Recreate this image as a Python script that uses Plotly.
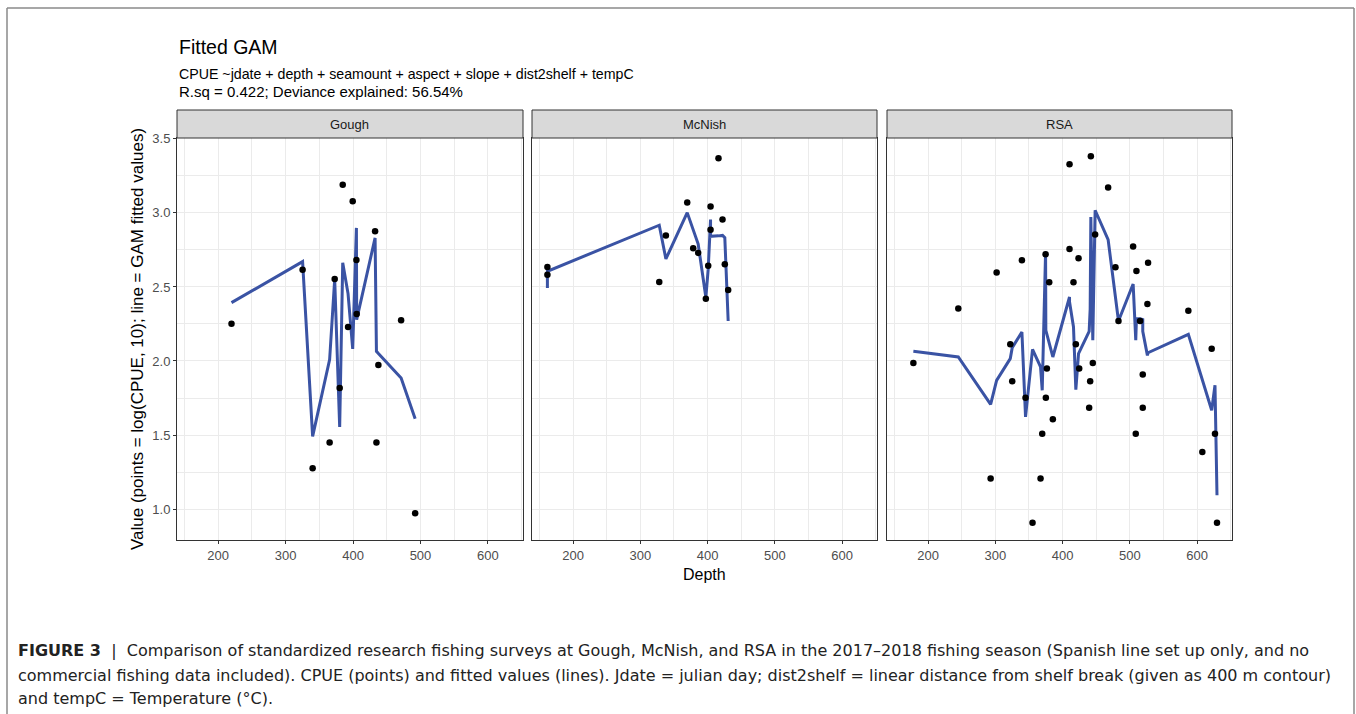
import plotly.graph_objects as go

W, H = 1356, 714

# Gough
gough_depth = [219.8, 325.2, 340.1, 365.3, 372.8, 380.2, 384.7, 392.6, 399.5, 405.0, 405.4, 432.7, 434.7, 437.6, 471.3, 492.1]
gough_cpue = [2.252, 2.617, 1.275, 1.450, 2.554, 1.818, 3.191, 2.230, 3.079, 2.682, 2.318, 2.876, 1.450, 1.973, 2.275, 0.971]
gough_fit = [2.394, 2.671, 1.491, 2.009, 2.552, 1.554, 2.664, 2.455, 2.081, 2.899, 2.279, 2.831, 2.065, 2.050, 1.885, 1.610]

# McNish
mcnish_depth = [161.9, 161.9, 328.2, 338.1, 369.8, 378.7, 386.1, 397.5, 401.0, 404.5, 404.5, 416.3, 422.3, 425.7, 430.7]
mcnish_cpue = [2.635, 2.583, 2.534, 2.847, 3.070, 2.761, 2.730, 2.421, 2.644, 3.043, 2.887, 3.369, 2.955, 2.653, 2.480]
mcnish_fit = [2.493, 2.606, 2.917, 2.689, 3.002, 2.880, 2.790, 2.430, 2.620, 2.955, 2.842, 2.845, 2.848, 2.833, 2.270]

# RSA
rsa_depth = [178.2, 245.0, 293.1, 302.0, 322.3, 325.2, 339.6, 345.0, 355.4, 367.3, 369.8,
             374.8, 375.2, 376.7, 380.2, 385.6, 410.4, 410.4, 416.3, 419.8, 423.8, 424.8,
             439.6, 441.1, 442.1, 445.0, 448.5, 467.8, 478.7, 483.2, 505.0, 508.9, 509.9,
             515.3, 519.3, 519.3, 526.2, 527.2, 587.1, 607.9, 621.8, 626.7, 629.7]
rsa_cpue = [1.986, 2.354, 1.207, 2.597, 2.113, 1.863, 2.680, 1.752, 0.908, 1.207, 1.509,
            2.721, 1.752, 1.950, 2.532, 1.606, 3.329, 2.757, 2.532, 2.113, 2.694, 1.950,
            1.685, 1.863, 3.383, 1.986, 2.854, 3.171, 2.633, 2.270, 2.773, 1.509, 2.608,
            2.270, 1.908, 1.685, 2.385, 2.664, 2.340, 1.385, 2.083, 1.509, 0.908]
rsa_fit = [2.065, 2.027, 1.707, 1.869, 2.016, 2.090, 2.196, 1.622, 2.079, 1.960, 1.802,
           2.737, 2.207, 2.180, 2.120, 2.027, 2.432, 2.400, 2.230, 1.806, 2.050, 2.060,
           2.200, 2.350, 2.973, 2.140, 3.018, 2.820, 2.430, 2.270, 2.520, 2.140, 2.286,
           2.286, 2.280, 2.200, 2.038, 2.056, 2.180, 1.871, 1.667, 1.836, 1.093]

panels = ["Gough", "McNish", "RSA"]
data = [(gough_depth, gough_cpue, gough_fit),
        (mcnish_depth, mcnish_cpue, mcnish_fit),
        (rsa_depth, rsa_cpue, rsa_fit)]

# panel pixel boxes
xpix = [(177, 523), (532, 877), (887, 1232)]
ytop, ybot = 138, 540

def px(x):
    return x / W

def py(y):
    return 1 - y / H

fig = go.Figure()
for i, (d, c, f) in enumerate(data):
    ax = "" if i == 0 else str(i + 1)
    fig.add_trace(go.Scatter(x=d, y=f, mode="lines", line=dict(color="#3A53A4", width=3),
                             xaxis="x" + ax, yaxis="y" + ax, showlegend=False))
    fig.add_trace(go.Scatter(x=d, y=c, mode="markers", marker=dict(color="black", size=6.5),
                             xaxis="x" + ax, yaxis="y" + ax, showlegend=False))

grid = "#EBEBEB"
border = "#333333"
layout = dict(template="none", width=W, height=H, autosize=False, margin=dict(l=0, r=0, t=0, b=0, pad=0),
              paper_bgcolor="white", plot_bgcolor="white",
              font=dict(family="Liberation Sans, Arial", color="black"))

for i in range(3):
    ax = "" if i == 0 else str(i + 1)
    layout["xaxis" + ax] = dict(
        domain=[px(xpix[i][0]), px(xpix[i][1])], range=[139, 652], anchor="y" + ax, automargin=False,
        tickmode="linear", tick0=200, dtick=100,
        showgrid=True, gridcolor=grid, gridwidth=1.1, zeroline=False,
        minor=dict(tick0=150, dtick=100, showgrid=True, gridcolor=grid, gridwidth=0.6),
        showline=True, mirror=True, linecolor=border, linewidth=1,
        ticks="outside", ticklen=3, tickwidth=1, tickcolor=border,
        tickfont=dict(size=13, color="#4D4D4D"))
    layout["yaxis" + ax] = dict(
        domain=[py(ybot), py(ytop)], range=[0.791, 3.506], anchor="x" + ax, automargin=False,
        tickmode="linear", tick0=1.0, dtick=0.5, tickformat=".1f",
        showgrid=True, gridcolor=grid, gridwidth=1.1, zeroline=False,
        minor=dict(tick0=0.75, dtick=0.5, showgrid=True, gridcolor=grid, gridwidth=0.6),
        showline=True, mirror=True, linecolor=border, linewidth=1,
        ticks="outside" if i == 0 else "", ticklen=3, tickwidth=1, tickcolor=border,
        showticklabels=(i == 0),
        tickfont=dict(size=13, color="#4D4D4D"))

shapes = []
annotations = []
for i, name in enumerate(panels):
    x0, x1 = xpix[i]
    shapes.append(dict(type="rect", xref="paper", yref="paper",
                       x0=px(x0), x1=px(x1), y0=py(ytop), y1=py(110),
                       fillcolor="#D9D9D9", line=dict(color=border, width=1)))
    annotations.append(dict(text=name, xref="paper", yref="paper", x=px((x0 + x1) / 2), y=py(124),
                            xanchor="center", yanchor="middle", showarrow=False,
                            font=dict(size=13, color="#1A1A1A")))

# outer frame
fc = "#8A8A8A"
shapes += [
    dict(type="line", xref="paper", yref="paper", x0=px(7), x1=px(7), y0=0, y1=py(8), line=dict(color=fc, width=1.5)),
    dict(type="line", xref="paper", yref="paper", x0=px(7), x1=px(1354), y0=py(8), y1=py(8), line=dict(color=fc, width=1.5)),
    dict(type="line", xref="paper", yref="paper", x0=px(1354), x1=px(1354), y0=0, y1=py(8), line=dict(color=fc, width=1.5)),
]

def txt(s, x, y, size, xanchor="left", color="black", angle=0, family=None):
    f = dict(size=size, color=color)
    if family:
        f["family"] = family
    annotations.append(dict(text=s, xref="paper", yref="paper", x=px(x), y=py(y),
                            xanchor=xanchor, yanchor="middle", showarrow=False, textangle=angle,
                            font=f))

txt("Fitted GAM", 177, 47, 19.5)
txt("CPUE ~jdate + depth + seamount + aspect + slope + dist2shelf + tempC", 177, 74, 14.2)
txt("R.sq = 0.422; Deviance explained: 56.54%", 177, 92, 15)
txt("Value (points = log(CPUE, 10); line = GAM fitted values)", 137, 339, 17, xanchor="center", angle=-90)
txt("Depth", 704, 574, 16, xanchor="center")

cap = "#222222"
cf = "DejaVu Sans"
txt("<b>FIGURE 3</b>  |  Comparison of standardized research fishing surveys at Gough, McNish, and RSA in the 2017–2018 fishing season (Spanish line set up only, and no",
    16, 650, 16, color=cap, family=cf)
txt("commercial fishing data included). CPUE (points) and fitted values (lines). Jdate = julian day; dist2shelf = linear distance from shelf break (given as 400 m contour)",
    16, 675, 16, color=cap, family=cf)
txt("and tempC = Temperature (°C).", 16, 698, 16, color=cap, family=cf)

layout["shapes"] = shapes
layout["annotations"] = annotations
fig.update_layout(**layout)
fig.write_html("out.html", config={"displayModeBar": False},
               post_script="document.body.style.margin='0px';document.body.style.overflow='hidden';")
